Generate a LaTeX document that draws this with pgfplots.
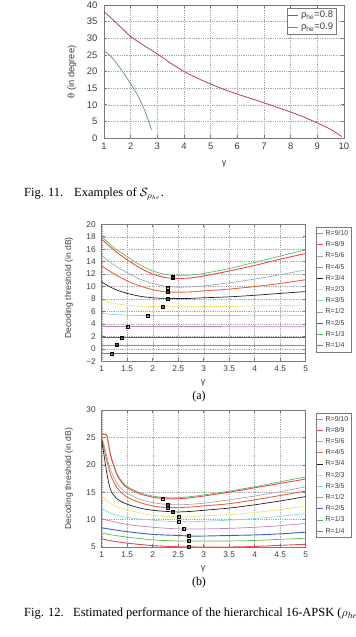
\documentclass[border=0pt]{standalone}
\usepackage{pgfplots}
\pgfplotsset{compat=1.18}
\usepackage{fontspec}
\setmainfont{Liberation Serif}
\newfontfamily\sans{Liberation Sans}

\definecolor{frame}{HTML}{7A7A7A}
\definecolor{ticktext}{HTML}{3C3C3C}
\definecolor{gridc}{HTML}{A8A8A8}
\definecolor{rhoA}{HTML}{B8404E}
\definecolor{rhoB}{HTML}{5E907E}
\definecolor{cA}{HTML}{5CC05C}% R=9/10
\definecolor{cB}{HTML}{F04848}% R=8/9
\definecolor{cC}{HTML}{A8A8A8}% R=5/6
\definecolor{cD}{HTML}{F06040}% R=4/5
\definecolor{cE}{HTML}{202020}% R=3/4
\definecolor{cF}{HTML}{F0E070}% R=2/3
\definecolor{cG}{HTML}{80DCDC}% R=3/5
\definecolor{cH}{HTML}{C080C8}% R=1/2
\definecolor{cI}{HTML}{4060C0}% R=2/5
\definecolor{cJ}{HTML}{50C050}% R=1/3
\definecolor{cK}{HTML}{F04848}% R=1/4

\pgfplotsset{
  gp/.style={
    scale only axis, anchor=south west,
    axis line style={frame, line width=0.6bp},
    every tick/.style={frame, line width=0.5bp},
    major tick length=3bp,
    grid=major,
    major grid style={gridc, line width=0.4bp, dash pattern=on 0.6bp off 1.2bp},
    tick label style={text=ticktext},
    legend cell align=left,
  },
  toplegend/.style={
    legend style={draw=frame, line width=0.5bp, fill=white,
      font=\sans\fontsize{9.5}{9.5}\selectfont, text=ticktext,
      at={(0.97,0.977)}, anchor=north east,
      nodes={inner ysep=0pt, inner xsep=2.5bp, text height=7bp, text depth=2bp},
      row sep=3bp, inner xsep=1bp, inner ysep=2.5bp},
    legend image code/.code={\draw[##1, line width=0.7bp] (3bp,0bp) -- (13bp,0bp);},
  },
  small/.style={
    gp, width=204bp, height=137bp, xmin=1, xmax=5,
    xtick={1,1.5,2,2.5,3,3.5,4,4.5,5},
    xticklabels={1,1.5,2,2.5,3,3.5,4,4.5,5},
    ticklabel style={font=\sans\fontsize{8.3}{8.3}\selectfont},
    xticklabel style={yshift=-1bp}, yticklabel style={xshift=-2.5bp},
    legend style={draw=frame, line width=0.5bp, fill=white,
      font=\sans\fontsize{7}{7}\selectfont, text=ticktext,
      at={(1.049,0.98)}, anchor=north west,
      nodes={inner ysep=0pt, inner xsep=2bp, text height=5.2bp, text depth=1.3bp},
      row sep=4.7bp, inner xsep=1bp, inner ysep=3bp},
    legend image code/.code={\draw[##1, line width=0.7bp] (2bp,0bp) -- (8bp,0bp);},
  },
  curve/.style={smooth, tension=0.45, line width=0.7bp, no markers},
  optmark/.style={only marks, forget plot, black, mark size=1.5bp,
    mark options={line width=0.35bp}},
}

\begin{document}
\begin{tikzpicture}
\useasboundingbox (0,0) rectangle (356bp,637bp);

% ---------------- Fig. 11 ----------------
\begin{axis}[gp, toplegend, at={(104bp,499bp)}, width=240bp, height=133bp,
  xmin=1, xmax=10, ymin=0, ymax=40,
  xtick={1,2,3,4,5,6,7,8,9,10}, xticklabels={1,2,3,4,5,6,7,8,9,10},
  ytick={0,5,10,15,20,25,30,35,40}, yticklabels={0,5,10,15,20,25,30,35,40},
  ticklabel style={font=\sans\fontsize{9.5}{9.5}\selectfont},
  xticklabel style={yshift=-1.5bp},
  yticklabel style={xshift=-3bp},
]
\addplot[rhoA, line width=0.8bp, smooth, tension=0.4] coordinates {
  (1,38.0) (1.25,36.2) (1.5,34.3) (1.75,32.4) (2,30.5) (2.5,27.8) (3,25.3)
  (3.5,22.5) (4,20.0) (4.5,18.0) (5,16.2) (5.5,14.6) (6,13.2) (6.5,11.9)
  (7,10.6) (7.5,9.2) (8,7.8) (8.5,6.3) (9,4.5) (9.25,3.6) (9.5,2.6)
  (9.7,1.6) (9.85,0.8) (9.93,0.4)};
\addlegendentry{ρ\textsubscript{he}=0.8}
\addplot[rhoB, line width=0.7bp, smooth, tension=0.4] coordinates {
  (1,26.2) (1.25,24.6) (1.5,22.2) (1.75,19.4) (2,16.3) (2.25,13.0)
  (2.5,8.8) (2.6,6.7) (2.7,4.4) (2.78,2.5)};
\addlegendentry{ρ\textsubscript{he}=0.9}
\end{axis}
\node[rotate=90, font=\sans\fontsize{9.3}{9.3}\selectfont, text=ticktext] at (72bp,565bp) {θ (in degree)};
\node[font=\sans\fontsize{9}{9}\selectfont, text=ticktext] at (224bp,473bp) {γ};
\node[anchor=base west, inner sep=0pt, font=\fontsize{12.5}{12.5}\selectfont] at (24bp,440bp) {Fig. 11.};
\node[anchor=base west, inner sep=0pt, font=\fontsize{12.5}{12.5}\selectfont] at (74bp,440bp) {Examples of $\mathcal{S}_{\rho_{he}}$.};

% ---------------- Fig. 12(a) ----------------
\begin{axis}[small, at={(101.7bp,275.7bp)}, ymin=-2, ymax=20,
  ytick={-2,0,2,4,6,8,10,12,14,16,18,20},
  yticklabels={−2,0,2,4,6,8,10,12,14,16,18,20},
]
\addplot[cA, curve] coordinates {(1,18.0) (1.25,16.2) (1.5,14.8) (1.75,13.5) (2,12.5) (2.25,11.95) (2.5,11.8) (2.75,11.85) (3,12.1) (3.5,12.9) (4,13.9) (4.5,14.9) (5,15.9)};
\addlegendentry{R=9/10}
\addplot[cB, curve, line width=0.9bp] coordinates {(1,17.6) (1.25,15.8) (1.5,14.3) (1.75,13.0) (2,12.0) (2.25,11.45) (2.5,11.3) (2.75,11.4) (3,11.7) (3.5,12.5) (4,13.4) (4.5,14.4) (5,15.3)};
\addlegendentry{R=8/9}
\addplot[cC, curve] coordinates {(1,15.0) (1.25,13.4) (1.5,12.2) (1.75,11.2) (2,10.5) (2.25,10.05) (2.5,9.9) (2.75,9.95) (3,10.1) (3.5,10.6) (4,11.2) (4.5,11.9) (5,12.7)};
\addlegendentry{R=5/6}
\addplot[cD, curve, line width=0.9bp] coordinates {(1,13.3) (1.25,12.0) (1.5,10.9) (1.75,10.1) (2,9.5) (2.25,9.15) (2.5,9.1) (2.75,9.15) (3,9.3) (3.5,9.6) (4,10.0) (4.5,10.5) (5,11.1)};
\addlegendentry{R=4/5}
\addplot[cE, curve] coordinates {(1,10.7) (1.25,9.6) (1.5,8.9) (1.75,8.45) (2,8.2) (2.25,8.1) (2.5,8.1) (2.75,8.1) (3,8.2) (3.5,8.35) (4,8.6) (4.5,8.9) (5,9.2)};
\addlegendentry{R=3/4}
\addplot[cF, curve] coordinates {(1,7.8) (1.25,7.3) (1.5,7.0) (1.75,6.85) (2,6.8) (2.25,6.75) (2.5,6.75) (2.75,6.75) (3,6.8) (3.5,6.8) (4,6.9) (4.5,6.95) (5,7.0)};
\addlegendentry{R=2/3}
\addplot[cG, curve] coordinates {(1,5.7) (1.25,5.5) (1.5,5.4) (1.75,5.35) (2,5.35) (2.5,5.35) (3,5.35) (3.5,5.35) (4,5.4) (4.5,5.4) (5,5.4)};
\addlegendentry{R=3/5}
\addplot[cH, curve, line width=0.9bp] coordinates {(1,3.6) (2,3.58) (3,3.56) (4,3.55) (5,3.55)};
\addlegendentry{R=1/2}
\addplot[cI, curve, line width=1.1bp] coordinates {(1,1.8) (2,1.8) (3,1.8) (4,1.8) (5,1.8)};
\addlegendentry{R=2/5}
\addplot[cJ, curve] coordinates {(1,0.6) (2,0.6) (3,0.6) (4,0.6) (5,0.6)};
\addlegendentry{R=1/3}
\addplot[cK, curve, line width=0.9bp] coordinates {(1,-0.75) (2,-0.75) (3,-0.75) (4,-0.75) (5,-0.75)};
\addlegendentry{R=1/4}
% optimum operating points
\addplot[optmark, mark=square] coordinates {(2.4,11.6) (2.4,11.35) (2.3,9.9) (2.3,9.1) (2.3,8.1) (2.2,6.75) (1.9,5.35) (1.5,3.55) (1.4,1.8) (1.3,0.6) (1.2,-0.75)};
\addplot[optmark, mark=x] coordinates {(2.4,11.6) (2.4,11.35) (2.3,9.9) (2.3,9.1) (2.3,8.1) (2.2,6.75) (1.9,5.35) (1.5,3.55) (1.4,1.8) (1.3,0.6) (1.2,-0.75)};
\end{axis}
\node[rotate=90, font=\sans\fontsize{8.6}{8.6}\selectfont, text=ticktext] at (69bp,349bp) {Decoding threshold (in dB)};
\node[font=\sans\fontsize{9}{9}\selectfont, text=ticktext] at (203bp,254bp) {γ};
\node[font=\fontsize{12}{12}\selectfont] at (199bp,240bp) {(a)};

% ---------------- Fig. 12(b) ----------------
\begin{axis}[small, at={(101.7bp,90bp)}, ymin=5, ymax=30,
  ytick={5,10,15,20,25,30}, yticklabels={5,10,15,20,25,30},
]
\addplot[cA, curve] coordinates {(1,25.6) (1.05,25.6) (1.1,25.3) (1.15,23.0) (1.2,21.0) (1.3,18.4) (1.4,16.9) (1.5,16.0) (1.75,14.9) (2,14.3) (2.25,14.0) (2.5,14.0) (2.75,14.2) (3,14.5) (3.5,15.2) (4,16.0) (4.5,16.9) (5,17.8)};
\addlegendentry{R=9/10}
\addplot[cB, curve, line width=0.9bp] coordinates {(1,25.6) (1.05,25.6) (1.1,25.4) (1.15,22.8) (1.2,20.8) (1.3,18.2) (1.4,16.7) (1.5,15.8) (1.75,14.7) (2,14.1) (2.25,13.8) (2.5,13.8) (2.75,14.0) (3,14.3) (3.5,15.0) (4,15.8) (4.5,16.6) (5,17.4)};
\addlegendentry{R=8/9}
\addplot[cC, curve] coordinates {(1,25.2) (1.05,23.5) (1.1,21.5) (1.15,19.8) (1.2,18.5) (1.3,16.6) (1.4,15.5) (1.5,14.8) (1.75,13.7) (2,13.1) (2.25,12.8) (2.5,12.7) (2.75,12.8) (3,13.0) (3.5,13.6) (4,14.3) (4.5,15.1) (5,16.0)};
\addlegendentry{R=5/6}
\addplot[cD, curve, line width=0.9bp] coordinates {(1,24.8) (1.05,22.8) (1.1,20.8) (1.15,19.0) (1.2,17.6) (1.3,15.8) (1.4,14.8) (1.5,14.1) (1.75,13.1) (2,12.5) (2.25,12.2) (2.5,12.2) (2.75,12.3) (3,12.5) (3.5,12.9) (4,13.6) (4.5,14.4) (5,15.2)};
\addlegendentry{R=4/5}
\addplot[cE, curve] coordinates {(1,24.5) (1.05,21.5) (1.1,18.5) (1.15,16.2) (1.2,14.9) (1.3,13.8) (1.4,13.2) (1.5,12.8) (1.75,12.1) (2,11.7) (2.25,11.5) (2.5,11.4) (2.75,11.5) (3,11.7) (3.5,12.1) (4,12.7) (4.5,13.4) (5,14.2)};
\addlegendentry{R=3/4}
\addplot[cF, curve] coordinates {(1,14.3) (1.1,13.4) (1.2,12.8) (1.3,12.3) (1.5,11.8) (1.75,11.2) (2,10.8) (2.25,10.6) (2.5,10.5) (2.75,10.5) (3,10.7) (3.5,10.9) (4,11.3) (4.5,11.8) (5,12.5)};
\addlegendentry{R=2/3}
\addplot[cG, curve] coordinates {(1,12.0) (1.1,11.5) (1.2,11.1) (1.3,10.8) (1.5,10.4) (1.75,10.1) (2,9.9) (2.25,9.7) (2.5,9.6) (2.75,9.6) (3,9.7) (3.5,9.9) (4,10.2) (4.5,10.6) (5,11.1)};
\addlegendentry{R=3/5}
\addplot[cH, curve] coordinates {(1,10.1) (1.2,9.7) (1.5,9.1) (2,8.6) (2.5,8.3) (2.75,8.3) (3,8.3) (3.5,8.4) (4,8.6) (4.5,8.9) (5,9.3)};
\addlegendentry{R=1/2}
\addplot[cI, curve, line width=0.9bp] coordinates {(1,8.5) (1.2,8.2) (1.5,7.8) (2,7.3) (2.5,7.1) (2.75,7.0) (3,7.0) (3.5,7.1) (4,7.2) (4.5,7.4) (5,7.7)};
\addlegendentry{R=2/5}
\addplot[cJ, curve] coordinates {(1,7.6) (1.2,7.2) (1.5,6.8) (2,6.3) (2.5,6.1) (3,6.1) (3.5,6.1) (4,6.2) (4.5,6.4) (5,6.6)};
\addlegendentry{R=1/3}
\addplot[cK, curve, line width=0.9bp] coordinates {(1,6.5) (1.2,6.1) (1.5,5.7) (2,5.25) (2.5,5.05) (3,5.0) (3.5,5.0) (4,5.1) (4.5,5.3) (5,5.5)};
\addlegendentry{R=1/4}
% optimum operating points
\addplot[optmark, mark=square] coordinates {(2.2,13.9) (2.3,12.7) (2.3,12.2) (2.4,11.45) (2.5,10.5) (2.5,9.6) (2.6,8.3) (2.7,7.0) (2.7,6.1) (2.7,5.1)};
\addplot[optmark, mark=x] coordinates {(2.2,13.9) (2.3,12.7) (2.3,12.2) (2.4,11.45) (2.5,10.5) (2.5,9.6) (2.6,8.3) (2.7,7.0) (2.7,6.1) (2.7,5.1)};
\end{axis}
\node[rotate=90, font=\sans\fontsize{8.6}{8.6}\selectfont, text=ticktext] at (69bp,158.5bp) {Decoding threshold (in dB)};
\node[font=\sans\fontsize{9}{9}\selectfont, text=ticktext] at (203bp,68bp) {γ};
\node[font=\fontsize{12}{12}\selectfont] at (199bp,54bp) {(b)};
\node[anchor=base west, inner sep=0pt, font=\fontsize{12.5}{12.5}\selectfont] at (24bp,21bp) {Fig. 12.};
\node[anchor=base west, inner sep=0pt, font=\fontsize{12.5}{12.5}\selectfont] at (73bp,21bp) {Estimated performance of the hierarchical 16-APSK ($\rho_{he}$};
\end{tikzpicture}
\end{document}
